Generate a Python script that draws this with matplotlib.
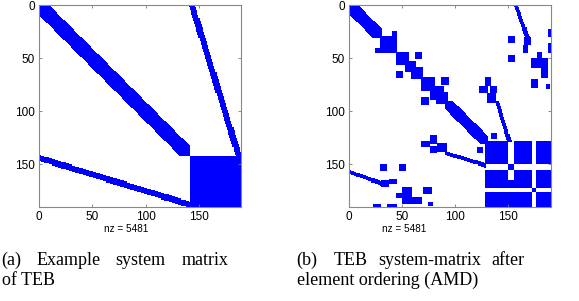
import numpy as np
import matplotlib
matplotlib.use("Agg")
import matplotlib.pyplot as plt
from matplotlib.colors import ListedColormap

N = 190
NZ_LABEL = "nz = 5481"

# (a) original TEB system matrix: band, coupling line, dense block
a_bands = [(0, 142, 9)]                      # start, stop, half width
a_lines = [(0, 141, 142, 185, 6)]            # r0, c0, r1, c1, width
a_blocks = [(142, 190, 142, 190)]            # r0, r1, c0, c1

# (b) after AMD ordering, upper part (mirrored below the diagonal)
b_bands = [(0, 31, 8), (90, 131, 7)]
b_lines = [(0, 155, 33, 167, 4), (90, 137, 128, 149, 4)]
b_blocks = [
    (29, 45, 29, 45), (24, 30, 40, 45), (44, 56, 44, 56), (44, 51, 62, 69),
    (54, 63, 53, 63), (58, 70, 58, 70), (68, 81, 68, 81), (68, 75, 87, 94),
    (76, 89, 76, 89), (82, 93, 82, 93),
    (29, 36, 150, 156), (47, 54, 150, 156), (23, 30, 187, 190), (36, 45, 187, 190),
    (30, 38, 165, 171), (38, 45, 164, 168), (44, 50, 177, 182), (50, 59, 171, 187),
    (53, 69, 181, 187), (74, 79, 185, 189), (70, 78, 171, 178),
    (68, 76, 128, 134), (76, 83, 122, 131), (76, 83, 133, 139), (83, 92, 130, 138),
    (120, 126, 134, 139),
]
# dense trailing part of (b), drawn as is
b_dense = [
    (128, 150, 128, 150), (128, 150, 155, 172), (128, 150, 176, 190),
    (150, 155, 150, 155),
    (155, 172, 128, 150), (176, 190, 128, 150),
    (155, 172, 155, 172), (155, 172, 176, 190), (176, 190, 155, 172), (176, 190, 176, 190),
    (172, 176, 172, 176),
    (165, 172, 150, 155), (176, 190, 150, 155),
]


def build(bands, lines, blocks, extra=()):
    M = np.zeros((N, N), dtype=int)
    for s, e, hw in bands:
        for i in range(s, e):
            M[i, max(s, i - hw):min(e, i + hw + 1)] = 1
    for r0, c0, r1, c1, w in lines:
        for r in range(r0, r1 + 1):
            c = int(round(c0 + (c1 - c0) * (r - r0) / (r1 - r0)))
            M[r, c:c + w] = 1
    for r0, r1, c0, c1 in blocks:
        M[r0:r1, c0:c1] = 1
    M = M | M.T
    for r0, r1, c0, c1 in extra:
        M[r0:r1, c0:c1] = 1
    return M


A = build(a_bands, a_lines, a_blocks)
B = build(b_bands, b_lines, b_blocks, b_dense)

cmap = ListedColormap(["white", "#0000ff"])
fig = plt.figure(figsize=(5.79, 3.01), dpi=100)
W, H = 579.0, 301.0

panels = [(A, 39.3, 125.8), (B, 349.0, 404.0)]
for M, left, nzx in panels:
    ax = fig.add_axes([left / W, 1 - 207 / H, 202 / W, 202 / H])
    ax.imshow(M, cmap=cmap, interpolation="nearest", extent=(0, N, N, 0), aspect="auto")
    ax.set_xlim(0, N)
    ax.set_ylim(N, 0)
    ax.set_xticks([0, 50, 100, 150])
    ax.set_yticks([0, 50, 100, 150])
    ax.tick_params(direction="in", top=True, right=True, length=2.5, width=0.6,
                   color="#777777", labelsize=8.5, pad=3)
    for lab in ax.get_xticklabels() + ax.get_yticklabels():
        lab.set_family("Liberation Sans")
    for sp in ax.spines.values():
        sp.set_color("#888888")
        sp.set_linewidth(0.8)
    fig.text(nzx / W, 1 - 228.5 / H, NZ_LABEL, ha="center", va="center",
             fontsize=7.2, family="Liberation Sans")

# captions: justified first lines, so last word is right-aligned
serif = dict(fontsize=13, family="Liberation Serif", va="baseline")
cap_words = [
    (1.7, 265.0, "(a)", "left"), (36.7, 265.0, "Example", "left"),
    (115.0, 265.0, "system", "left"), (228.5, 265.0, "matrix", "right"),
    (1.7, 285.0, "of TEB", "left"),
    (296.7, 265.0, "(b)", "left"), (333.3, 265.0, "TEB", "left"),
    (378.3, 265.0, "system-matrix", "left"), (524.0, 265.0, "after", "right"),
    (296.7, 285.0, "element ordering (AMD)", "left"),
]
for x, y, t, ha in cap_words:
    fig.text(x / W, 1 - y / H, t, ha=ha, **serif)

fig.savefig("out.png", dpi=100)
